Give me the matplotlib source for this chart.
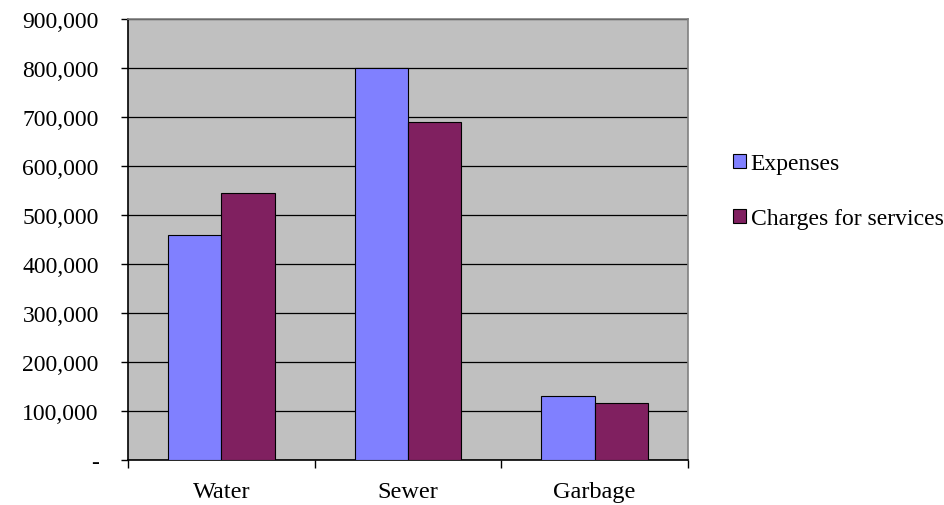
import matplotlib.pyplot as plt
import numpy as np
from matplotlib.ticker import FuncFormatter

categories = ["Water", "Sewer", "Garbage"]
expenses = [459000, 800000, 130000]
charges = [544000, 690000, 117000]
series_names = ["Expenses", "Charges for services"]
y_ticks = list(range(0, 900001, 100000))


def fmt(v, _pos):
    if v == 0:
        return "-"
    return f"{int(v):,}"


def main() -> None:
    plt.rcParams["font.family"] = ["Liberation Serif", "DejaVu Serif"]
    fig = plt.figure(figsize=(9.45, 5.06), dpi=100)
    ax = fig.add_axes([128 / 945, 1 - 461 / 506, (688 - 128) / 945, (461 - 20) / 506])
    ax.set_facecolor("#C0C0C0")

    x = np.arange(len(categories))
    w = 0.286
    ax.bar(x - w / 2, expenses, w, color="#8080FF", edgecolor="black", linewidth=0.8,
           label=series_names[0], zorder=3)
    ax.bar(x + w / 2, charges, w, color="#802060", edgecolor="black", linewidth=0.8,
           label=series_names[1], zorder=3)

    ax.set_xlim(-0.5, len(categories) - 0.5)
    ax.set_ylim(0, 900000)
    ax.set_yticks(y_ticks)
    ax.yaxis.set_major_formatter(FuncFormatter(fmt))
    ax.yaxis.grid(True, color="black", linewidth=0.9, zorder=1)
    ax.set_axisbelow(True)

    ax.set_xticks(x)
    ax.set_xticklabels(categories)
    ax.set_xticks(np.arange(-0.5, len(categories)), minor=True)
    ax.tick_params(axis="x", which="major", length=0, pad=15, labelsize=17.5)
    ax.tick_params(axis="x", which="minor", length=6, direction="out", width=1)
    ax.tick_params(axis="y", length=5, direction="out", width=1, labelsize=17, pad=16)

    for side in ("top", "right"):
        ax.spines[side].set_color("#808080")
        ax.spines[side].set_linewidth(1.2)
    for side in ("left", "bottom"):
        ax.spines[side].set_color("black")
        ax.spines[side].set_linewidth(1.2)

    fig.legend(loc="upper left", bbox_to_anchor=(733 / 945, 1 - 154 / 506), frameon=False,
               fontsize=17, handlelength=0.55, handleheight=0.55, handletextpad=0.2,
               labelspacing=1.45, borderaxespad=0, borderpad=0)

    fig.savefig("out.png", dpi=100)


if __name__ == "__main__":
    main()
